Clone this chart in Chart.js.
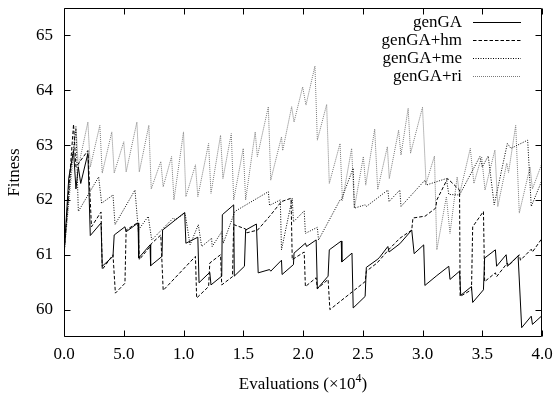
<!DOCTYPE html>
<html><head><meta charset="utf-8">
<script src="https://cdn.jsdelivr.net/npm/chart.js@4/dist/chart.umd.min.js"></script>
<style>html,body{margin:0;padding:0;background:#fff}#wrap{width:554px;height:393px}</style>
</head><body>
<div id="wrap"><canvas id="c" width="554" height="393"></canvas></div>
<script>
const seriesNames = ['genGA', 'genGA+hm', 'genGA+me', 'genGA+ri'];
const xTickValues = [0, 0.5, 1, 1.5, 2, 2.5, 3, 3.5, 4];
const xTickLabels = ['0.0', '5.0', '1.0', '1.5', '2.0', '2.5', '3.0', '3.5', '4.0'];
const yTickValues = [60, 61, 62, 63, 64, 65];
const yTickLabels = ['60', '61', '62', '63', '64', '65'];

const genGA = [[0,61.0],[0.04,62.4],[0.08,62.9],[0.10,62.2],[0.12,62.6],[0.14,62.3],[0.20,62.85],[0.22,61.35],[0.31,61.58],[0.32,60.79],[0.41,60.97],[0.42,61.36],[0.51,61.51],[0.52,61.42],[0.62,61.58],[0.625,60.94],[0.72,61.18],[0.725,60.80],[0.82,60.97],[0.825,61.45],[1.01,61.77],[1.02,61.21],[1.12,61.32],[1.13,60.49],[1.22,60.68],[1.23,60.45],[1.32,60.61],[1.325,61.73],[1.42,61.91],[1.425,60.61],[1.51,60.79],[1.52,61.45],[1.61,61.56],[1.625,60.67],[1.72,60.73],[1.73,60.70],[1.82,60.90],[1.825,60.64],[1.92,60.82],[1.925,61.03],[2.02,61.21],[2.03,61.15],[2.11,61.27],[2.12,60.38],[2.21,60.61],[2.22,61.09],[2.32,61.25],[2.325,60.87],[2.41,61.03],[2.42,60.03],[2.52,60.24],[2.53,60.77],[2.62,60.91],[2.64,60.95],[2.71,61.15],[2.72,61.05],[2.81,61.2],[2.91,61.45],[2.93,61.02],[3.01,61.18],[3.02,60.44],[3.12,60.62],[3.22,60.79],[3.23,60.55],[3.31,60.70],[3.32,60.26],[3.41,60.42],[3.42,60.13],[3.51,60.36],[3.52,60.94],[3.61,61.09],[3.62,60.79],[3.70,61.0],[3.71,60.79],[3.80,60.98],[3.83,59.67],[3.91,59.88],[3.92,59.73],[4.0,59.89]];

const genGAhm = [[0,61.0],[0.08,63.38],[0.10,62.6],[0.20,62.9],[0.23,61.51],[0.31,61.78],[0.32,60.73],[0.41,61.0],[0.43,60.30],[0.51,60.48],[0.52,61.45],[0.62,61.59],[0.63,60.91],[0.72,61.15],[0.73,61.2],[0.81,61.36],[0.83,60.35],[1.10,60.97],[1.11,60.21],[1.21,60.42],[1.22,60.85],[1.31,61.0],[1.32,60.45],[1.41,60.6],[1.42,61.55],[1.52,61.47],[1.53,61.4],[1.62,61.45],[1.72,61.70],[1.82,61.97],[1.90,62.03],[1.91,60.91],[2.01,61.05],[2.02,60.42],[2.11,60.58],[2.12,60.38],[2.21,60.55],[2.225,60.0],[2.52,60.51],[2.53,60.7],[2.62,60.85],[2.72,61.1],[2.81,61.3],[2.91,61.45],[2.92,61.67],[3.01,61.70],[3.02,61.70],[3.11,61.85],[3.12,62.0],[3.21,62.39],[3.31,62.18],[3.315,60.24],[3.41,60.36],[3.42,61.51],[3.51,61.79],[3.52,60.51],[3.61,60.67],[3.62,60.6],[3.71,60.85],[3.72,60.8],[3.81,61.0],[3.82,60.9],[3.91,61.1],[3.92,61.05],[4.0,61.3]];

const genGAme = [[0,61.0],[0.06,62.6],[0.10,63.3],[0.12,61.79],[0.29,62.42],[0.315,61.94],[0.41,62.09],[0.427,61.55],[0.594,62.18],[0.622,61.45],[0.705,61.70],[0.734,61.27],[0.915,61.67],[0.93,61.64],[1.013,61.76],[1.055,61.18],[1.124,61.55],[1.152,61.15],[1.235,61.30],[1.24,61.15],[1.32,61.42],[1.333,61.21],[1.43,61.79],[1.71,62.15],[1.72,61.9],[1.81,62.0],[1.82,61.09],[1.91,62.03],[1.92,61.6],[2.01,61.8],[2.02,61.39],[2.12,61.5],[2.13,61.27],[2.31,62.0],[2.32,62.0],[2.42,62.58],[2.43,61.85],[2.52,61.91],[2.53,61.88],[2.71,62.18],[2.72,61.97],[2.81,62.18],[2.82,61.88],[3.02,62.36],[3.03,62.27],[3.20,62.39],[3.22,62.1],[3.31,62.09],[3.48,62.79],[3.5,62.6],[3.55,62.8],[3.6,61.91],[3.71,63.03],[3.74,62.94],[3.88,63.09],[3.91,61.88],[4.0,62.36]];

const genGAri = [[0,61.0],[0.10,63.35],[0.12,62.6],[0.20,63.42],[0.22,62.6],[0.30,63.36],[0.32,62.49],[0.40,63.24],[0.42,62.49],[0.50,63.06],[0.52,62.51],[0.61,63.42],[0.63,62.51],[0.71,63.36],[0.73,62.2],[0.81,62.70],[0.83,62.24],[0.90,62.79],[0.92,62.0],[1.00,63.24],[1.02,62.06],[1.10,62.64],[1.12,62.06],[1.21,63.03],[1.23,62.12],[1.31,63.18],[1.33,62.39],[1.40,63.21],[1.42,62.0],[1.50,62.94],[1.52,62.0],[1.60,63.24],[1.618,62.79],[1.71,63.70],[1.73,62.36],[1.82,63.15],[1.83,62.9],[1.905,63.70],[1.925,63.42],[1.997,64.06],[2.025,63.73],[2.10,64.44],[2.12,63.09],[2.198,63.74],[2.22,62.30],[2.31,63.03],[2.33,61.99],[2.407,62.94],[2.43,61.85],[2.505,62.79],[2.525,62.27],[2.60,63.29],[2.625,62.19],[2.706,62.97],[2.722,62.39],[2.80,63.27],[2.82,62.82],[2.88,63.67],[2.90,62.85],[3.00,63.69],[3.03,62.3],[3.10,62.8],[3.12,61.09],[3.20,62.06],[3.23,61.39],[3.29,62.42],[3.31,62.1],[3.40,62.94],[3.43,62.30],[3.495,62.79],[3.523,62.18],[3.606,62.91],[3.63,61.88],[3.705,62.67],[3.72,62.5],[3.78,63.36],[3.81,61.76],[3.90,62.6],[3.92,62.2],[4.0,62.67]];

const seriesData = [genGA, genGAhm, genGAme, genGAri];
const seriesColors = ['#000000', '#000000', '#000000', '#7a7a7a'];
const seriesDash = [[], [3.5, 2], [1, 1.5], [1, 1]];

const FONT = '"Liberation Serif", "Times New Roman", serif';

const framePlugin = {
  id: 'framePlugin',
  afterDraw(chart) {
    const ctx = chart.ctx, a = chart.chartArea;
    const xs = chart.scales.x, ys = chart.scales.y;
    ctx.save();
    ctx.strokeStyle = '#000';
    ctx.lineWidth = 1;
    ctx.setLineDash([]);
    const L = Math.round(a.left) + 0.5, R = Math.round(a.right) - 0.5;
    const T = Math.round(a.top) + 0.5, B = Math.round(a.bottom) - 0.5;
    ctx.beginPath();
    ctx.rect(L, T, R - L, B - T);
    ctx.stroke();
    const tl = 6;
    ctx.beginPath();
    xTickValues.forEach(v => {
      const px = Math.round(xs.getPixelForValue(v)) + 0.5;
      ctx.moveTo(px, B); ctx.lineTo(px, B - tl);
      ctx.moveTo(px, T); ctx.lineTo(px, T + tl);
    });
    yTickValues.forEach(v => {
      const py = Math.round(ys.getPixelForValue(v)) + 0.5;
      ctx.moveTo(L, py); ctx.lineTo(L + tl, py);
      ctx.moveTo(R, py); ctx.lineTo(R - tl, py);
    });
    ctx.stroke();

    ctx.fillStyle = '#000';
    ctx.font = '17px ' + FONT;
    ctx.textBaseline = 'alphabetic';
    const main = 'Evaluations (\u00d710', sup = '4', tail = ')';
    const w1 = ctx.measureText(main).width;
    ctx.font = '12px ' + FONT;
    const w2 = ctx.measureText(sup).width;
    ctx.font = '17px ' + FONT;
    const w3 = ctx.measureText(tail).width;
    const cx = (a.left + a.right) / 2;
    const sx = cx - (w1 + w2 + w3) / 2;
    const by = 389;
    ctx.textAlign = 'left';
    ctx.fillText(main, sx, by);
    ctx.font = '12px ' + FONT;
    ctx.fillText(sup, sx + w1, by - 7);
    ctx.font = '17px ' + FONT;
    ctx.fillText(tail, sx + w1 + w2, by);

    ctx.save();
    ctx.translate(19, (a.top + a.bottom) / 2);
    ctx.rotate(-Math.PI / 2);
    ctx.textAlign = 'center';
    ctx.fillText('Fitness', 0, 0);
    ctx.restore();

    const rows = [22, 40, 58, 76];
    ctx.textAlign = 'right';
    ctx.textBaseline = 'middle';
    seriesNames.forEach((name, i) => {
      ctx.fillStyle = '#000';
      ctx.font = '17px ' + FONT;
      ctx.fillText(name, 462, rows[i] + 1);
      ctx.strokeStyle = seriesColors[i];
      ctx.setLineDash(seriesDash[i]);
      ctx.beginPath();
      ctx.moveTo(473, rows[i] + 0.5);
      ctx.lineTo(521, rows[i] + 0.5);
      ctx.stroke();
    });
    ctx.restore();
  }
};

new Chart(document.getElementById('c'), {
  type: 'line',
  data: {
    datasets: seriesNames.map((n, i) => ({
      label: n,
      data: seriesData[i].map(p => ({ x: p[0], y: p[1] })),
      borderColor: seriesColors[i],
      borderWidth: 1,
      borderDash: seriesDash[i],
      pointRadius: 0,
      tension: 0,
      fill: false
    }))
  },
  options: {
    responsive: false,
    animation: false,
    devicePixelRatio: 1,
    layout: { padding: { top: 8, right: 12, left: 0, bottom: 0 } },
    plugins: { legend: { display: false }, tooltip: { enabled: false } },
    scales: {
      x: {
        type: 'linear', min: 0, max: 4,
        afterBuildTicks: s => { s.ticks = xTickValues.map(v => ({ value: v })); },
        afterFit: s => { s.height = 56; s.paddingLeft = 0; s.paddingRight = 0; s.paddingTop = 0; s.paddingBottom = 0; },
        grid: { display: false, drawTicks: false },
        border: { display: false },
        ticks: {
          color: '#000', padding: 7, maxRotation: 0, autoSkip: false,
          font: { family: FONT, size: 17 },
          callback: (v) => { const i = xTickValues.indexOf(v); return i >= 0 ? xTickLabels[i] : ''; }
        }
      },
      y: {
        type: 'linear', min: 59.5, max: 65.5,
        afterBuildTicks: s => { s.ticks = yTickValues.map(v => ({ value: v })); },
        afterFit: s => { s.width = 64; s.paddingTop = 0; s.paddingBottom = 0; s.paddingLeft = 0; s.paddingRight = 0; },
        grid: { display: false, drawTicks: false },
        border: { display: false },
        ticks: {
          color: '#000', padding: 11,
          font: { family: FONT, size: 17 },
          callback: (v) => { const i = yTickValues.indexOf(v); return i >= 0 ? yTickLabels[i] : ''; }
        }
      }
    }
  },
  plugins: [framePlugin]
});
</script>
</body></html>
